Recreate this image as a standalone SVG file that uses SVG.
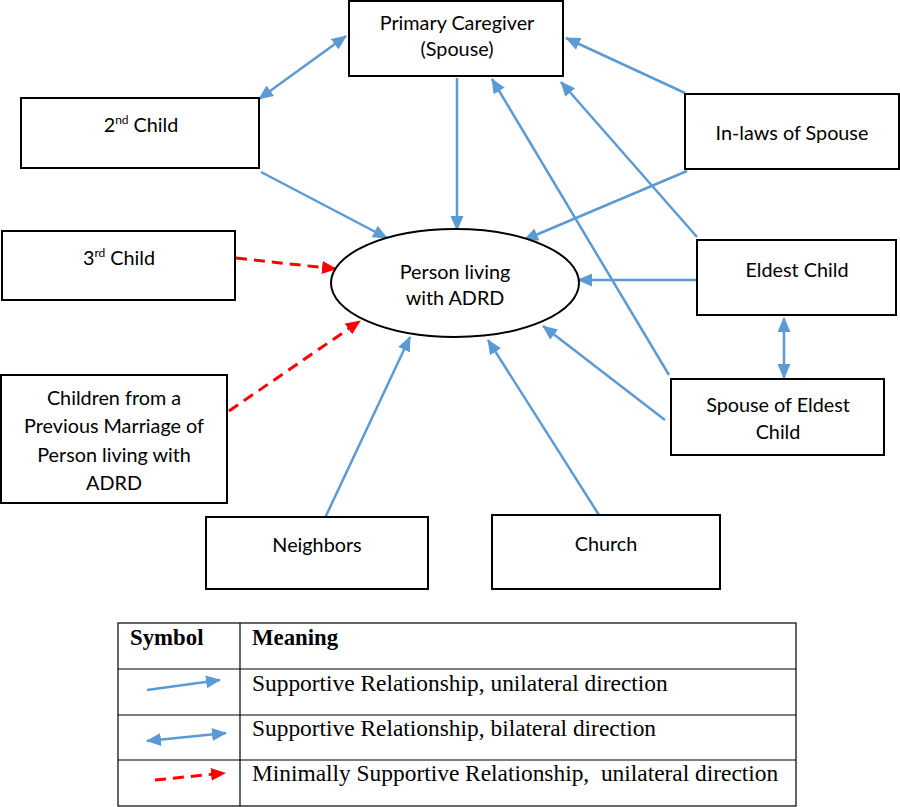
<svg xmlns="http://www.w3.org/2000/svg" width="900" height="807" viewBox="0 0 900 807">
<style>
.box{fill:#fff;stroke:#000;stroke-width:2}
.t{font-family:Lato,"Liberation Sans",sans-serif;font-size:19.8px;fill:#000;text-anchor:middle}
.sup{font-size:12px}
.b{fill:none;stroke:#5B9BD5;stroke-width:2.5}
.r{fill:none;stroke:#FF0000;stroke-width:3;stroke-dasharray:11,7}
.lt{font-family:"Liberation Serif","Times New Roman",serif;font-size:23.4px;fill:#000}
.lb{font-weight:bold;font-size:22.8px}
.grid{fill:none;stroke:#000;stroke-width:1.2}
</style>
<defs>
<marker id="ab" markerUnits="userSpaceOnUse" markerWidth="15" markerHeight="13" refX="14" refY="6.5" orient="auto-start-reverse">
<path d="M0,0 L15,6.5 L0,13 Z" fill="#5B9BD5"/>
</marker>
<marker id="ar" markerUnits="userSpaceOnUse" markerWidth="15" markerHeight="13" refX="14" refY="6.5" orient="auto">
<path d="M0,0 L15,6.5 L0,13 Z" fill="#FF0000"/>
</marker>
</defs>

<g id="connectors">
<line class="b" x1="259" y1="99" x2="346" y2="36" marker-start="url(#ab)" marker-end="url(#ab)"/>
<line class="b" x1="261" y1="172" x2="387" y2="238" marker-end="url(#ab)"/>
<line class="r" x1="236" y1="258" x2="336" y2="269" marker-end="url(#ar)"/>
<line class="r" x1="229" y1="411" x2="360" y2="321" marker-end="url(#ar)"/>
<line class="b" x1="325" y1="518" x2="410" y2="337" marker-end="url(#ab)"/>
<line class="b" x1="599" y1="515" x2="488" y2="340" marker-end="url(#ab)"/>
<line class="b" x1="457" y1="78" x2="457" y2="230" marker-end="url(#ab)"/>
<line class="b" x1="685" y1="93" x2="566" y2="38" marker-end="url(#ab)"/>
<line class="b" x1="687" y1="171" x2="524" y2="240" marker-end="url(#ab)"/>
<line class="b" x1="697" y1="237" x2="561" y2="82" marker-end="url(#ab)"/>
<line class="b" x1="697" y1="280" x2="578" y2="280" marker-end="url(#ab)"/>
<line class="b" x1="669" y1="375" x2="492" y2="79" marker-end="url(#ab)"/>
<line class="b" x1="665" y1="420" x2="543" y2="326" marker-end="url(#ab)"/>
<line class="b" x1="784" y1="318" x2="784" y2="378" marker-start="url(#ab)" marker-end="url(#ab)"/>
</g>

<g id="primary">
<rect class="box" x="349" y="1" width="214" height="75"/>
<text class="t" x="457" y="30">Primary Caregiver</text>
<text class="t" x="457" y="56">(Spouse)</text>
</g>
<g id="child2">
<rect class="box" x="21" y="98" width="238" height="70"/>
<text class="t" x="141" y="132">2<tspan class="sup" dy="-8">nd</tspan><tspan dy="8"> Child</tspan></text>
</g>
<g id="child3">
<rect class="box" x="2" y="231" width="233" height="69"/>
<text class="t" x="119" y="265">3<tspan class="sup" dy="-8">rd</tspan><tspan dy="8"> Child</tspan></text>
</g>
<g id="person">
<ellipse cx="455" cy="283" rx="124" ry="54" fill="#fff" stroke="#000" stroke-width="2"/>
<text class="t" x="455" y="279">Person living</text>
<text class="t" x="455" y="305">with ADRD</text>
</g>
<g id="inlaws">
<rect class="box" x="685" y="94" width="214" height="75"/>
<text class="t" x="792" y="140">In-laws of Spouse</text>
</g>
<g id="eldest">
<rect class="box" x="697" y="240" width="199" height="75"/>
<text class="t" x="797" y="277">Eldest Child</text>
</g>
<g id="spouseEldest">
<rect class="box" x="671" y="379" width="213" height="76"/>
<text class="t" x="778" y="412">Spouse of Eldest</text>
<text class="t" x="778" y="439">Child</text>
</g>
<g id="prevMarriage">
<rect class="box" x="1" y="375" width="226" height="128"/>
<text class="t" x="114" y="405">Children from a</text>
<text class="t" x="114" y="433">Previous Marriage of</text>
<text class="t" x="114" y="462">Person living with</text>
<text class="t" x="114" y="490">ADRD</text>
</g>
<g id="neighbors">
<rect class="box" x="206" y="517" width="222" height="72"/>
<text class="t" x="317" y="552">Neighbors</text>
</g>
<g id="church">
<rect class="box" x="492" y="515" width="228" height="74"/>
<text class="t" x="606" y="551">Church</text>
</g>

<g id="legend">
<rect class="grid" x="118" y="623" width="678" height="183"/>
<line class="grid" x1="240" y1="623" x2="240" y2="806"/>
<line class="grid" x1="118" y1="669" x2="796" y2="669"/>
<line class="grid" x1="118" y1="715" x2="796" y2="715"/>
<line class="grid" x1="118" y1="760" x2="796" y2="760"/>
<text class="lt lb" x="130" y="645">Symbol</text>
<text class="lt lb" x="252" y="645">Meaning</text>
<line class="b" x1="147" y1="690" x2="220" y2="680" marker-end="url(#ab)"/>
<text class="lt" x="252" y="691">Supportive Relationship, unilateral direction</text>
<line class="b" x1="147" y1="741" x2="226" y2="733" marker-start="url(#ab)" marker-end="url(#ab)"/>
<text class="lt" x="252" y="736">Supportive Relationship, bilateral direction</text>
<line class="r" x1="155" y1="780" x2="225" y2="773" marker-end="url(#ar)"/>
<text class="lt" x="252" y="781" xml:space="preserve">Minimally Supportive Relationship,  unilateral direction</text>
</g>
</svg>
